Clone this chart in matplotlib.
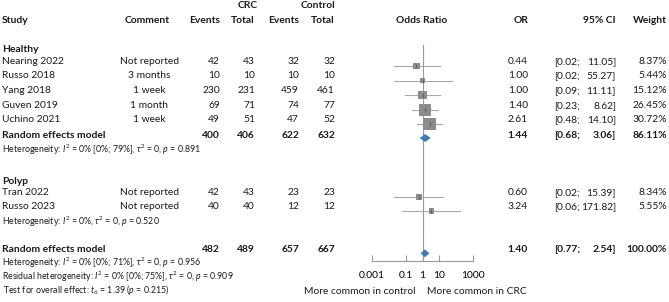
import numpy as np
import matplotlib
matplotlib.use("Agg")
import matplotlib.pyplot as plt

plt.rcParams['font.family'] = ['Lato', 'DejaVu Sans']
plt.rcParams['mathtext.fontset'] = 'custom'
plt.rcParams['mathtext.rm'] = 'Lato'
plt.rcParams['mathtext.it'] = 'Lato:italic'

# data
healthy_study = ["Nearing 2022", "Russo 2018", "Yang 2018", "Guven 2019", "Uchino 2021"]
healthy_comment = ["Not reported", "3 months", "1 week", "1 month", "1 week"]
healthy_crc_events = [42, 10, 230, 69, 49]
healthy_crc_total = [43, 10, 231, 71, 51]
healthy_ctrl_events = [32, 10, 459, 74, 47]
healthy_ctrl_total = [32, 10, 461, 77, 52]
healthy_or = [0.44, 1.00, 1.00, 1.40, 2.61]
healthy_lo = [0.02, 0.02, 0.09, 0.23, 0.48]
healthy_hi = [11.05, 55.27, 11.11, 8.62, 14.10]
healthy_weight = [8.37, 5.44, 15.12, 26.45, 30.72]

polyp_study = ["Tran 2022", "Russo 2023"]
polyp_comment = ["Not reported", "Not reported"]
polyp_crc_events = [42, 40]
polyp_crc_total = [43, 40]
polyp_ctrl_events = [23, 12]
polyp_ctrl_total = [23, 12]
polyp_or = [0.60, 3.24]
polyp_lo = [0.02, 0.06]
polyp_hi = [15.39, 171.82]
polyp_weight = [8.34, 5.55]

# random effects summaries: events/totals, OR, CI, weight
healthy_re = [400, 406, 622, 632, 1.44, 0.68, 3.06, 86.11]
overall_re = [482, 489, 657, 667, 1.40, 0.77, 2.54, 100.00]

het_healthy = r"Heterogeneity: $I^2$ = 0% [0%; 79%], $\tau^2$ = 0, $p$ = 0.891"
het_polyp = r"Heterogeneity: $I^2$ = 0%, $\tau^2$ = 0, $p$ = 0.520"
het_overall = r"Heterogeneity: $I^2$ = 0% [0%; 71%], $\tau^2$ = 0, $p$ = 0.956"
het_resid = r"Residual heterogeneity: $I^2$ = 0% [0%; 75%], $\tau^2$ = 0, $p$ = 0.909"
test_overall = r"Test for overall effect: $t_6$ = 1.39 ($p$ = 0.215)"

xticks = [0.001, 0.1, 1, 10, 1000]
xticklabels = ["0.001", "0.1", "1", "10", "1000"]

# layout (pixels)
W, H = 669, 302
FS = 7.4
FS_SMALL = 6.3
SQ_COL = '#8c8c8c'
CI_COL = '#a8a8a8'
DIA_COL = '#3f7db5'
AXIS_Y = 260.7

fig = plt.figure(figsize=(W / 100, H / 100), dpi=100)
ax = fig.add_axes([0, 0, 1, 1])
ax.set_xlim(0, W)
ax.set_ylim(H, 0)
ax.axis('off')

fa = fig.add_axes([371.7 / W, (H - AXIS_Y) / H, (473.3 - 371.7) / W, AXIS_Y / H])
fa.set_xscale('log')
fa.set_xlim(1e-3, 1e3)
fa.set_ylim(AXIS_Y, 0)
fa.patch.set_visible(False)
for s in ['top', 'left', 'right']:
    fa.spines[s].set_visible(False)
fa.spines['bottom'].set_color('#999999')
fa.spines['bottom'].set_linewidth(0.8)
fa.set_xticks(xticks)
fa.set_xticklabels(xticklabels)
fa.minorticks_off()
fa.set_yticks([])
fa.tick_params(axis='x', direction='in', length=4, color='#999999', width=0.8,
               labelsize=FS, pad=7.5)
fa.plot([1, 1], [45, AXIS_Y], color='#999999', lw=0.8)


def txt(x, y, s, ha='left', bold=False, size=FS):
    ax.text(x, y, s, ha=ha, va='center', fontsize=size,
            fontweight='bold' if bold else 'normal', color='#1a1a1a')


def number_row(y, vals, bold=False):
    ce, ct, oe, ot, o, lo, hi, w = vals
    txt(220, y, str(ce), 'right', bold)
    txt(255, y, str(ct), 'right', bold)
    txt(299, y, str(oe), 'right', bold)
    txt(335, y, str(ot), 'right', bold)
    txt(528, y, "%.2f" % o, 'right', bold)
    txt(580, y, "[%.2f;" % lo, 'right', bold)
    txt(616, y, "%.2f]" % hi, 'right', bold)
    txt(667, y, "%.2f%%" % w, 'right', bold)


def study_rows(ys, study, comment, ce, ct, oe, ot, orr, lo, hi, wt):
    for i, y in enumerate(ys):
        txt(2, y, study[i])
        txt(149, y, comment[i], 'center')
        number_row(y, [ce[i], ct[i], oe[i], ot[i], orr[i], lo[i], hi[i], wt[i]])
        ym = y + 4.5
        fa.plot([lo[i], hi[i]], [ym, ym], color=CI_COL, lw=0.8, zorder=2)
        side = 2.2 * np.sqrt(wt[i]) * 0.72
        fa.scatter([orr[i]], [ym], marker='s', s=side ** 2, color=SQ_COL,
                   edgecolors='none', zorder=3)
        fa.scatter([orr[i]], [ym], marker='|', s=6, color='#555555',
                   linewidths=0.6, zorder=4)


def diamond(y, vals):
    o, lo, hi = vals[4], vals[5], vals[6]
    fa.fill([lo, o, hi, o], [y, y - 4, y, y + 4], color=DIA_COL, lw=0, zorder=3)


# headers
txt(248, 5.7, "CRC", 'center', True)
txt(335, 5.7, "Control", 'right', True)
txt(2, 20.7, "Study", bold=True)
txt(147, 20.7, "Comment", 'center', True)
txt(220, 20.7, "Events", 'right', True)
txt(255, 20.7, "Total", 'right', True)
txt(299, 20.7, "Events", 'right', True)
txt(335, 20.7, "Total", 'right', True)
txt(422, 20.7, "Odds Ratio", 'center', True)
txt(528, 20.7, "OR", 'right', True)
txt(616, 20.7, "95% CI", 'right', True)
txt(667, 20.7, "Weight", 'right', True)

# healthy group
txt(2, 49.3, "Healthy", bold=True)
study_rows([61.7, 76, 90.5, 105.5, 119.5], healthy_study, healthy_comment,
           healthy_crc_events, healthy_crc_total, healthy_ctrl_events,
           healthy_ctrl_total, healthy_or, healthy_lo, healthy_hi, healthy_weight)
txt(2, 135, "Random effects model", bold=True)
number_row(135, healthy_re, bold=True)
diamond(138, healthy_re)
txt(2, 150, het_healthy, size=FS_SMALL)

# polyp group
txt(2, 181.7, "Polyp", bold=True)
study_rows([192.7, 206.5], polyp_study, polyp_comment,
           polyp_crc_events, polyp_crc_total, polyp_ctrl_events,
           polyp_ctrl_total, polyp_or, polyp_lo, polyp_hi, polyp_weight)
txt(2, 221.7, het_polyp, size=FS_SMALL)

# overall
txt(2, 250, "Random effects model", bold=True)
number_row(250, overall_re, bold=True)
diamond(253.3, overall_re)
txt(2, 262.9, het_overall, size=FS_SMALL)
txt(2, 276.3, het_resid, size=FS_SMALL)
txt(3, 289.8, test_overall, size=FS_SMALL)

txt(416, 291.7, "More common in control", 'right')
txt(427, 291.7, "More common in CRC", 'left')

fig.savefig("out.png", dpi=100)
